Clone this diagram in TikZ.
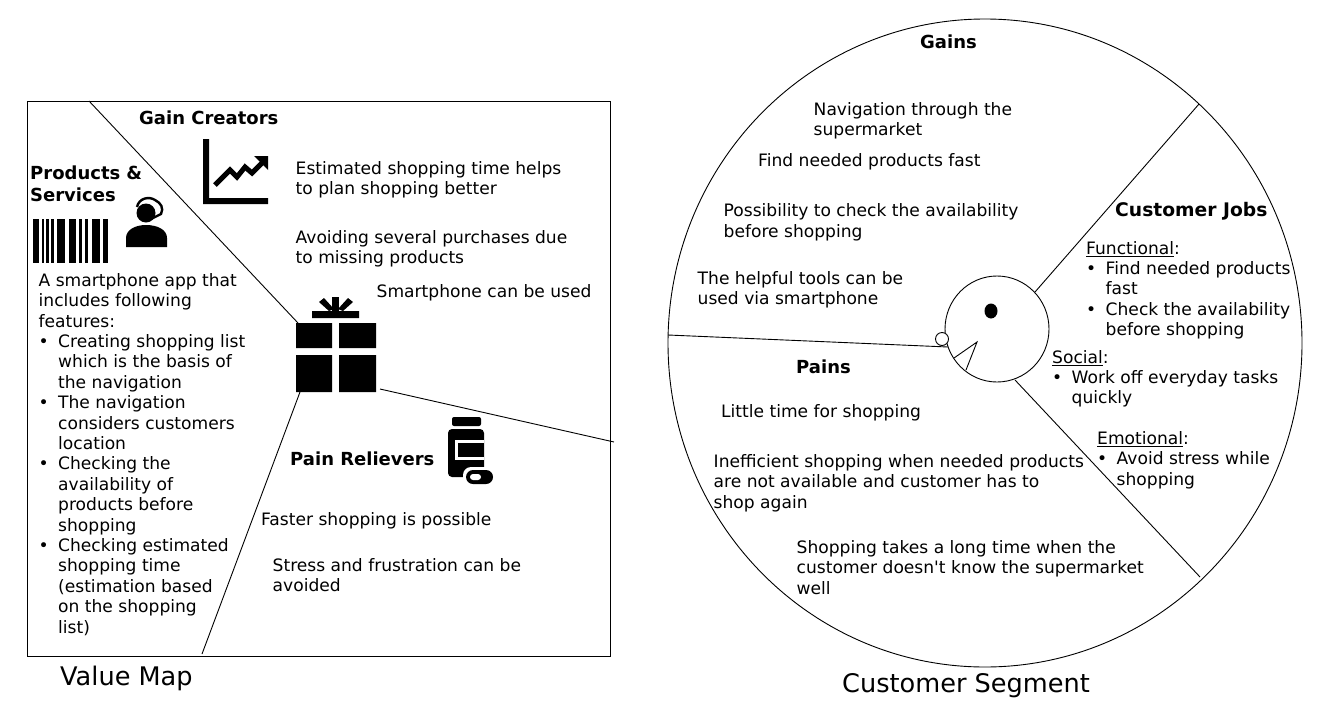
\documentclass[tikz,border=0pt]{standalone}
\usepackage{fontspec}
\setmainfont{DejaVu Sans}
\newcommand{\bu}{\makebox[19.5pt][l]{•}}
\newcommand{\ind}{\hspace{19.5pt}}
\tikzset{
 x=1pt,y=-1pt,
 txt/.style={anchor=north west,inner sep=0pt,align=left,font=\fontsize{17.1}{20.4}\selectfont,text=black},
 head/.style={txt,font=\fontsize{18}{22}\bfseries\selectfont},
 captext/.style={anchor=west,inner sep=0pt,font=\fontsize{25.6}{30}\selectfont},
 ln/.style={draw=black,line width=0.9pt},
 ico/.style={fill=black,draw=none}
}
\begin{document}
\begin{tikzpicture}
\useasboundingbox (0,0) rectangle (1321,715);
% frame
\draw[ln] (27,101) rectangle (610,656);
\coordinate (a1) at (89,101); \coordinate (a2) at (298,323);
\coordinate (b1) at (300,392); \coordinate (b2) at (202,654);
\coordinate (c1) at (380,389); \coordinate (c2) at (614,442);
\draw[ln] (a1)--(a2); \draw[ln] (b1)--(b2); \draw[ln] (c1)--(c2);
% gift
\fill[ico] (296,323) rectangle (332,348) (339,323) rectangle (376,348) (296,355) rectangle (332,392) (339,355) rectangle (376,392) (312,311) rectangle (359,318);
\fill[ico] (332,297) rectangle (339,311);
\fill[ico] (319,302)--(324,298)--(334,309)--(329,311)--cycle;
\fill[ico] (353,302)--(348,298)--(338,309)--(343,311)--cycle;
% chart
\fill[ico] (203,139) rectangle (209,204) (203,198) rectangle (268,204);
\draw[line width=5pt] (215,185)--(230,170)--(237,177)--(245,167)--(252,173)--(262,163);
\fill[ico] (254,156)--(268,156)--(268,170)--cycle;
% barcode
\foreach \xa/\xb in {33/39,41.5/44,46/49,50.5/54,57/65,69/76,79/82,85/88,92/100,103/108}
 \fill[ico] (\xa,219) rectangle (\xb,263);
% agent
\fill[ico] (126,247) -- (126,238) .. controls (126,230) and (135,225) .. (146,225) .. controls (158,225) and (167,230) .. (167,238) -- (167,247) -- cycle;
\fill[ico] (146,213) circle (9.5);
\draw[line width=2.4pt] (137,207) .. controls (139,198) and (149,196) .. (155,200) .. controls (161,203) and (164,208) .. (161,214) -- (151,219);
% bottle
\fill[ico,rounded corners=2pt] (452,417) rectangle (481,426);
\fill[ico,rounded corners=4pt] (448,429) rectangle (484,477);
\fill[white] (455,440) rectangle (484,460);
\fill[ico] (458,443) rectangle (484,457);
\fill[white,rounded corners=8pt] (463,467) rectangle (496,487);
\fill[ico,rounded corners=7pt] (466,470) rectangle (493,484);
\fill[white,rounded corners=3pt] (470,474) rectangle (481,480);
% left text
\node[head] (gc) at (139,110.5) {Gain Creators};
\node[head,text width=130pt] (ps) at (30,165.5) {Products \&\\Services};
\node[txt] (t1) at (38.5,273) {A smartphone app that\\includes following\\features:\\
\bu Creating shopping list\\\ind which is the basis of\\\ind the navigation\\
\bu The navigation\\\ind considers customers\\\ind location\\
\bu Checking the\\\ind availability of\\\ind products before\\\ind shopping\\
\bu Checking estimated\\\ind shopping time\\\ind (estimation based\\\ind on the shopping\\\ind list)};
\node[txt] (t2) at (295.5,161) {Estimated shopping time helps\\to plan shopping better};
\node[txt] (t3) at (295.5,230) {Avoiding several purchases due\\to missing products};
\node[txt] (t4) at (376.5,284) {Smartphone can be used};
\node[head] (pr) at (290,451.5) {Pain Relievers};
\node[txt] (t5) at (261,512) {Faster shopping is possible};
\node[txt] (t6) at (272.5,558) {Stress and frustration can be\\avoided};
\node[captext] (vm) at (60,678) {Value Map};
% right
\draw[ln] (985,343) circle (317 and 324);
\draw[ln,fill=white] (997,329) circle (52 and 53);
\fill[ico] (991,311) circle (6.5 and 7.5);
\draw[ln] (954,358)--(977,342)--(966,370);
\draw[ln,fill=white] (942,339) circle (6.5);
\coordinate (d1) at (668,335); \coordinate (d2) at (948,347);
\coordinate (e1) at (1035,292); \coordinate (e2) at (1199,104);
\coordinate (f1) at (1015,380); \coordinate (f2) at (1200,577);
\draw[ln] (d1)--(d2); \draw[ln] (e1)--(e2); \draw[ln] (f1)--(f2);
\node[head] (g) at (920,35) {Gains};
\node[txt] (r1) at (813.5,102) {Navigation through the\\supermarket};
\node[txt] (r2) at (758,153) {Find needed products fast};
\node[txt] (r3) at (723.5,203.5) {Possibility to check the availability\\before shopping};
\node[txt] (r4) at (697.5,271) {The helpful tools can be\\used via smartphone};
\node[head,font=\fontsize{18.7}{22}\bfseries\selectfont] (cj) at (1115,202.5) {Customer Jobs};
\node[txt] (r5) at (1086,241) {\underline{Functional}:\\\bu Find needed products\\\ind fast\\\bu Check the availability\\\ind before shopping};
\node[txt] (r6) at (1052,350) {\underline{Social}:\\\bu Work off everyday tasks\\\ind quickly};
\node[txt] (r7) at (1097,431) {\underline{Emotional}:\\\bu Avoid stress while\\\ind shopping};
\node[head] (pn) at (796,360) {Pains};
\node[txt] (r8) at (721,404) {Little time for shopping};
\node[txt] (r9) at (713.5,454) {Inefficient shopping when needed products\\are not available and customer has to\\shop again};
\node[txt] (r10) at (796.5,540) {Shopping takes a long time when the\\customer doesn\textquotesingle t know the supermarket\\well};
\node[captext] (cs) at (842,686) {Customer Segment};
\end{tikzpicture}
\end{document}
